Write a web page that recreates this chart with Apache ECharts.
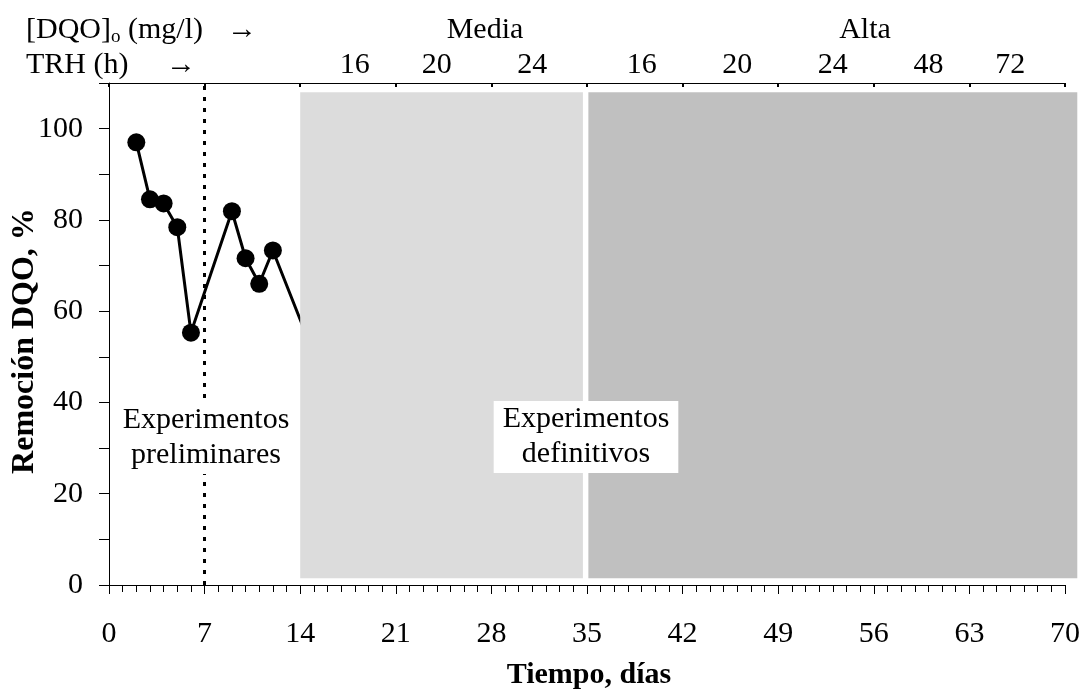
<!DOCTYPE html>
<html><head><meta charset="utf-8">
<script src="https://cdn.jsdelivr.net/npm/echarts@6/dist/echarts.min.js"></script>
<style>html,body{margin:0;padding:0;background:#fff}#c{width:1083px;height:696px}</style>
</head><body><div id="c"></div>
<script>
// ---- data ----
const days = [2, 3, 4, 5, 6, 9, 10, 11, 12, 16];
const removal = [97, 84.5, 83.6, 78.4, 55.3, 81.9, 71.6, 66.0, 73.3, 43];
const trhLabels = ['16', '20', '24', '16', '20', '24', '48', '72'];
const trhDays = [18, 24, 31, 39, 46, 53, 60, 66];
const dqoLevels = ['Media', 'Alta'];
const phaseNames = ['Experimentos\npreliminares', 'Experimentos\ndefinitivos'];
const phaseBoundary = 7;
const shadeStart = [14.0, 35.1];
const shadeEnd = [34.7, 70.9];
const shadeLow = [1.5, 1.5];
const shadeHigh = [108, 108];
const yTitle = 'Remoción DQO, %';
const xTitle = 'Tiempo, días';

// ---- styles ----
const FONT = '"Liberation Serif", "Times New Roman", serif';
const F30 = '30px "Liberation Serif", "Times New Roman", serif';
const shadeColors = ['#dcdcdc', '#c0c0c0'];

const chart = echarts.init(document.getElementById('c'), null, {renderer: 'canvas'});

const txt = (x, y, text, align, extra, rot) => ({
  type: 'text', x: x, y: y, z: 100, rotation: rot || 0,
  style: Object.assign({
    text: text, font: F30, fill: '#000',
    align: align, textAlign: align, verticalAlign: 'middle', textVerticalAlign: 'middle'
  }, extra || {})
});

const option = {
  animation: false,
  backgroundColor: '#fff',
  grid: {left: 109, right: 18, top: 83, bottom: 111, containLabel: false, outerBoundsMode: 'none'},
  xAxis: [
    {
      type: 'value', min: 0, max: 70, interval: 7, position: 'bottom',
      axisLine: {show: true, onZero: false, lineStyle: {color: '#000', width: 1}},
      axisTick: {show: true, inside: false, length: 9, lineStyle: {color: '#000'}},
      minorTick: {show: true, splitNumber: 7, length: 7, lineStyle: {color: '#000'}},
      splitLine: {show: false}, minorSplitLine: {show: false},
      axisLabel: {fontFamily: FONT, fontSize: 30, color: '#000', margin: 34}
    },
    {
      type: 'value', min: 0, max: 70, interval: 7, position: 'top',
      axisLine: {show: true, onZero: false, lineStyle: {color: '#000', width: 1}},
      axisTick: {show: true, inside: true, length: 4, lineStyle: {color: '#000', width: 2}},
      axisLabel: {show: false}, splitLine: {show: false}
    },
    {
      type: 'value', min: 0, max: 70, interval: 1, position: 'top',
      axisLine: {show: false, onZero: false}, axisTick: {show: false}, splitLine: {show: false},
      axisLabel: {
        fontFamily: FONT, fontSize: 30, color: '#000', margin: 3,
        formatter: function (v) { const i = trhDays.indexOf(Math.round(v)); return (i >= 0 && Math.abs(v - trhDays[i]) < 1e-6) ? trhLabels[i] : ''; }
      }
    }
  ],
  yAxis: {
    type: 'value', min: 0, max: 110, interval: 10,
    axisLine: {show: true, onZero: false, lineStyle: {color: '#000', width: 1}},
    axisTick: {show: true, length: 10, lineStyle: {color: '#000'}},
    splitLine: {show: false},
    axisLabel: {fontFamily: FONT, fontSize: 30, color: '#000', margin: 26,
      formatter: function (v) { return v % 20 === 0 ? String(v) : ''; }}
  },
  series: [
    {
      type: 'line', xAxisIndex: 0, z: 2,
      data: days.map((d, i) => [d, removal[i]]),
      symbol: 'circle', symbolSize: 18,
      itemStyle: {color: '#000'},
      lineStyle: {color: '#000', width: 3},
      markLine: {
        silent: true, symbol: ['none', 'none'], label: {show: false},
        lineStyle: {type: [4, 7], color: '#000', width: 3},
        data: [{xAxis: phaseBoundary}]
      }
    },
    {
      type: 'custom', xAxisIndex: 0, z: 3, silent: true,
      data: shadeStart.map((s, i) => [s, shadeEnd[i], shadeLow[i], shadeHigh[i], i]),
      encode: {x: [0, 1], y: [2, 3]},
      renderItem: function (params, api) {
        const p0 = api.coord([api.value(0), api.value(3)]);
        const p1 = api.coord([api.value(1), api.value(2)]);
        return {type: 'rect', shape: {x: p0[0], y: p0[1], width: p1[0] - p0[0], height: p1[1] - p0[1]},
          style: {fill: shadeColors[api.value(4)]}};
      }
    }
  ],
  graphic: [
    {
      type: 'text', x: 26, y: 30, z: 100,
      style: {
        text: '{a|[DQO]}{b|o}{a| (mg/l)}',
        align: 'left', textAlign: 'left', verticalAlign: 'middle', textVerticalAlign: 'middle',
        fill: '#000',
        rich: {
          a: {fontFamily: FONT, fontSize: 30, lineHeight: 34, fill: '#000', color: '#000'},
          b: {fontFamily: FONT, fontSize: 19, fill: '#000', color: '#000', verticalAlign: 'bottom'}
        }
      }
    },
    txt(242, 30, '→', 'center'),
    txt(26, 65, 'TRH (h)', 'left'),
    txt(181, 65, '→', 'center'),
    txt(485, 30, dqoLevels[0], 'center'),
    txt(865, 30, dqoLevels[1], 'center'),
    txt(206, 438, phaseNames[0], 'center', {lineHeight: 35, backgroundColor: '#fff', padding: [1, 9]}),
    txt(586, 437, phaseNames[1], 'center', {lineHeight: 35, backgroundColor: '#fff', padding: [1, 9]}),
    txt(25, 341, yTitle, 'center', {font: 'bold 32px "Liberation Serif", "Times New Roman", serif'}, Math.PI / 2),
    txt(589, 675, xTitle, 'center', {font: 'bold 30px "Liberation Serif", "Times New Roman", serif'})
  ]
};
chart.setOption(option);
</script>
</body></html>
